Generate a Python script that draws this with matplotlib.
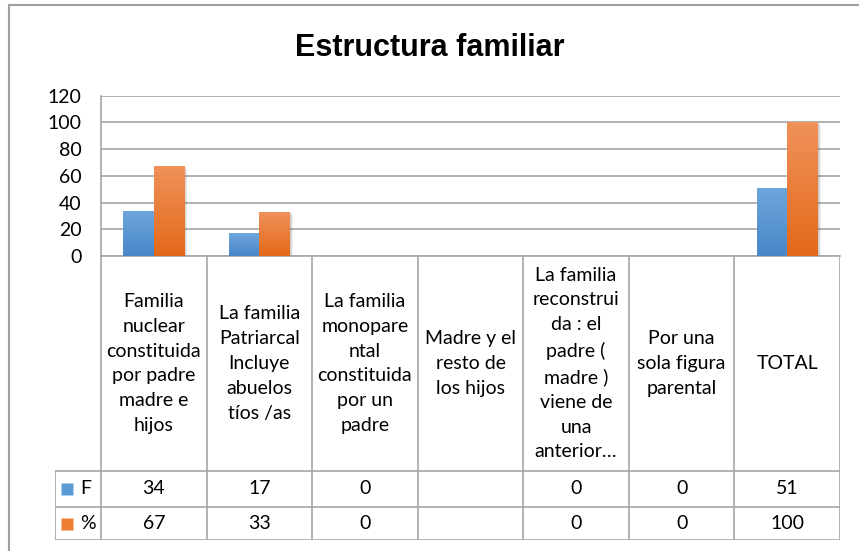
import matplotlib
matplotlib.use('Agg')
import matplotlib.pyplot as plt
import numpy as np
from matplotlib.colors import LinearSegmentedColormap

# Data
categories = [
    "Familia\nnuclear\nconstituida\npor padre\nmadre e\nhijos",
    "La familia\nPatriarcal\nIncluye\nabuelos\ntíos /as",
    "La familia\nmonopare\nntal\nconstituida\npor un\npadre",
    "Madre y el\nresto de\nlos hijos",
    "La familia\nreconstrui\nda : el\npadre (\nmadre )\nviene de\nuna\nanterior…",
    "Por una\nsola figura\nparental",
    "TOTAL",
]
f_values = [34, 17, 0, None, 0, 0, 51]
pct_values = [67, 33, 0, None, 0, 0, 100]
series_names = ["F", "%"]
yticks = [0, 20, 40, 60, 80, 100, 120]

W, H = 859, 551
fig = plt.figure(figsize=(W / 100, H / 100), dpi=100)
txt_font = 'Lato'
fs = 14
grid_c = '#A6A6A6'

# outer chart border
fig.add_artist(plt.Line2D([9 / W, 9 / W], [0, 1 - 5 / H], color='#A0A0A0', lw=1.5))
fig.add_artist(plt.Line2D([9 / W, 1], [1 - 5 / H, 1 - 5 / H], color='#A0A0A0', lw=1.5))

fig.text(0.5, 1 - 48 / H, "Estructura familiar", ha='center', va='center',
         fontsize=22, fontweight='bold', family='Liberation Sans')

# main plot
ax = fig.add_axes([101 / W, 1 - 256 / H, 739 / W, (256 - 95.7) / H])
x = np.arange(len(categories))
bw = 0.29
fv = [v if v is not None else 0 for v in f_values]
pv = [v if v is not None else 0 for v in pct_values]

blue_cmap = LinearSegmentedColormap.from_list('b', ['#4886C8', '#6FA7DC'])
orange_cmap = LinearSegmentedColormap.from_list('o', ['#E3691A', '#F0925A'])

def draw_bars(xs, vals, cmap):
    bars = ax.bar(xs, vals, width=bw, color='none', edgecolor='none', zorder=3)
    for b in bars:
        h = b.get_height()
        if h <= 0:
            continue
        x0, w = b.get_x(), b.get_width()
        # soft shadow
        for k in range(4):
            ax.add_patch(plt.Rectangle((x0 + 0.01 + k * 0.006, 0), w, h - 0.6 * k,
                                       color='black', alpha=0.05, lw=0, zorder=2))
        grad = np.linspace(0, 1, 100).reshape(-1, 1)
        im = ax.imshow(grad, cmap=cmap, aspect='auto', origin='lower',
                       extent=(x0, x0 + w, 0, h), zorder=4)
        im.set_clip_path(b)
    return bars

draw_bars(x - bw / 2, fv, blue_cmap)
draw_bars(x + bw / 2, pv, orange_cmap)

ax.set_xlim(-0.5, len(categories) - 0.5)
ax.set_ylim(0, 120)
ax.set_yticks(yticks)
ax.set_xticks([])
ax.grid(axis='y', color=grid_c, lw=1.2, zorder=0)
ax.set_axisbelow(True)
for s in ['top', 'right']:
    ax.spines[s].set_visible(False)
for s in ['left', 'bottom']:
    ax.spines[s].set_color(grid_c)
    ax.spines[s].set_linewidth(1.2)
ax.tick_params(axis='y', length=0, pad=14, labelsize=fs)
for lab in ax.get_yticklabels():
    lab.set_family(txt_font)

# data table
leg_w = 46 / 105.57
tab = fig.add_axes([55 / W, 1 - 540 / H, (840 - 55) / W, (540 - 256) / H])
tab.set_xlim(-0.5 - leg_w, len(categories) - 0.5)
row_b = [0, 33, 69, 284]
tab.set_ylim(0, 284)
tab.axis('off')
for yb in row_b[:3]:
    tab.plot([-0.5 - leg_w, len(categories) - 0.5], [yb, yb], color=grid_c, lw=1.2)
tab.plot([-0.5 - leg_w] * 2, [0, row_b[2]], color=grid_c, lw=1.2)
for k in range(len(categories) + 1):
    tab.plot([k - 0.5] * 2, [0, 284], color=grid_c, lw=1.2)

label_y = (row_b[2] + row_b[3]) / 2
for i, lab in enumerate(categories):
    tab.text(i, label_y, lab, ha='center', va='center', fontsize=fs,
             family=txt_font, linespacing=1.56)

series = [f_values, pct_values]
colors = ['#5B9BD5', '#ED7D31']
for r, (vals, name, c) in enumerate(zip(series, series_names, colors)):
    yc = (row_b[1 - r] + row_b[2 - r]) / 2
    for i, v in enumerate(vals):
        if v is not None:
            tab.text(i, yc, str(v), ha='center', va='center', fontsize=fs, family=txt_font)
    tab.plot([-0.5 - leg_w + 12 / 105.57], [yc], marker='s', ms=8.5, color=c, mec='none')
    tab.text(-0.5 - leg_w + 25 / 105.57, yc, name, ha='left', va='center',
             fontsize=fs, family=txt_font)

fig.savefig('out.png', dpi=100)
